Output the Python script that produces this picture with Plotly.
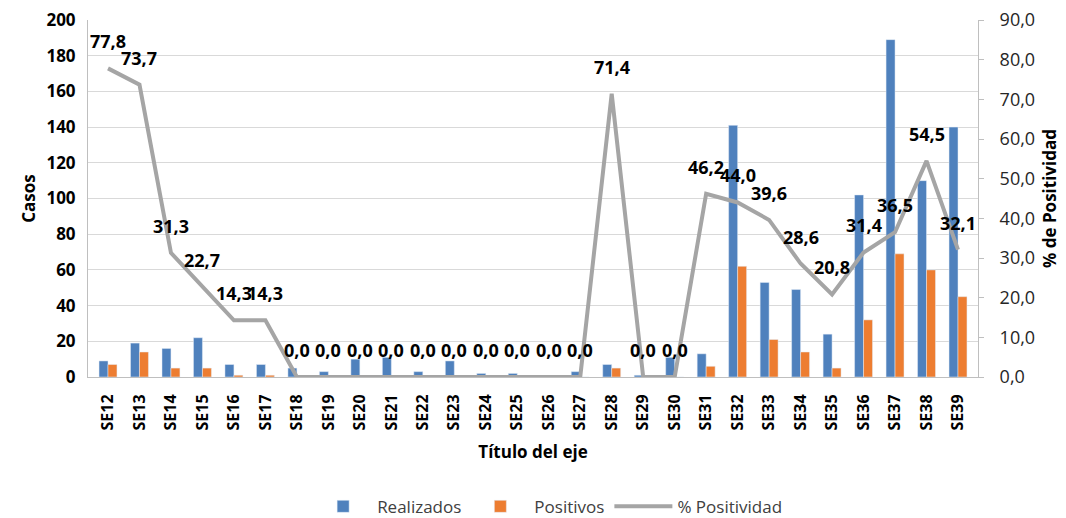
import plotly.graph_objects as go

categories = ["SE12","SE13","SE14","SE15","SE16","SE17","SE18","SE19","SE20","SE21",
              "SE22","SE23","SE24","SE25","SE26","SE27","SE28","SE29","SE30","SE31",
              "SE32","SE33","SE34","SE35","SE36","SE37","SE38","SE39"]
realizados = [9, 19, 16, 22, 7, 7, 5, 3, 10, 11,
              3, 9, 2, 2, 0, 3, 7, 1, 11, 13,
              141, 53, 49, 24, 102, 189, 110, 140]
positivos = [7, 14, 5, 5, 1, 1, 0, 0, 0, 0,
             0, 0, 0, 0, 0, 0, 5, 0, 0, 6,
             62, 21, 14, 5, 32, 69, 60, 45]
positividad = [77.8, 73.7, 31.3, 22.7, 14.3, 14.3, 0.0, 0.0, 0.0, 0.0,
               0.0, 0.0, 0.0, 0.0, 0.0, 0.0, 71.4, 0.0, 0.0, 46.2,
               44.0, 39.6, 28.6, 20.8, 31.4, 36.5, 54.5, 32.1]

FONT = "Open Sans"
BLUE = "#4F81BD"
ORANGE = "#ED7D31"
GRAY = "#A5A5A5"

fig = go.Figure()
fig.add_trace(go.Bar(x=categories, y=realizados, name="Realizados",
                     marker=dict(color=BLUE), yaxis="y"))
fig.add_trace(go.Bar(x=categories, y=positivos, name="Positivos",
                     marker=dict(color=ORANGE), yaxis="y"))
fig.add_trace(go.Scatter(x=categories, y=positividad, name="% Positividad",
                         mode="lines", line=dict(color=GRAY, width=4),
                         yaxis="y2"))

annotations = []
for c, v in zip(categories, positividad):
    annotations.append(dict(x=c, y=v, xref="x", yref="y2", yshift=27,
                            text=f"{v:.1f}".replace(".", ","), showarrow=False,
                            font=dict(family=FONT, size=18, color="#000000", weight="bold")))

# page body adds an 8px offset; figure is sized so that the plot area lands on the reference
fig.update_layout(
    width=1058, height=510,
    margin=dict(l=80, r=88, t=12, b=141, autoexpand=False),
    paper_bgcolor="white", plot_bgcolor="white",
    separators=",.",
    barmode="group", bargap=0.43, bargroupgap=0.0,
    font=dict(family=FONT, color="#000000"),
    annotations=annotations,
    xaxis=dict(
        type="category", tickangle=-90, automargin=False,
        tickfont=dict(family=FONT, size=16, color="#000000", weight="bold"),
        ticklabelstandoff=10, ticklabeloverflow="allow",
        showline=True, linecolor="#BFBFBF", linewidth=1,
        showgrid=False, ticks="",
        title=dict(text="Título del eje", standoff=16,
                   font=dict(family=FONT, size=17, color="#000000", weight="bold")),
    ),
    yaxis=dict(
        range=[0, 200], dtick=20, automargin=False,
        tickfont=dict(family=FONT, size=17, color="#000000", weight="bold"),
        ticklabelstandoff=8, ticklabeloverflow="allow",
        showline=True, linecolor="#BFBFBF", linewidth=1,
        showgrid=True, gridcolor="#D9D9D9", gridwidth=1,
        zeroline=False, ticks="",
        title=dict(text="Casos", standoff=6,
                   font=dict(family=FONT, size=17, color="#000000", weight="bold")),
    ),
    yaxis2=dict(
        overlaying="y", side="right", automargin=False,
        range=[0, 90], dtick=10, tickformat=".1f",
        tickfont=dict(family=FONT, size=18, color="#262626"),
        ticklabelstandoff=12, ticklabeloverflow="allow",
        showline=True, linecolor="#BFBFBF", linewidth=1,
        showgrid=False, zeroline=False,
        ticks="outside", ticklen=5, tickcolor="#BFBFBF",
        title=dict(text="% de Positividad", standoff=9,
                   font=dict(family=FONT, size=17, color="#000000", weight="bold")),
    ),
    legend=dict(orientation="h", x=0.517, xanchor="center",
                yref="container", y=0.022, yanchor="middle",
                font=dict(family=FONT, size=17, color="#404040"),
                traceorder="normal", itemwidth=58),
)

fig.write_html("out.html")
